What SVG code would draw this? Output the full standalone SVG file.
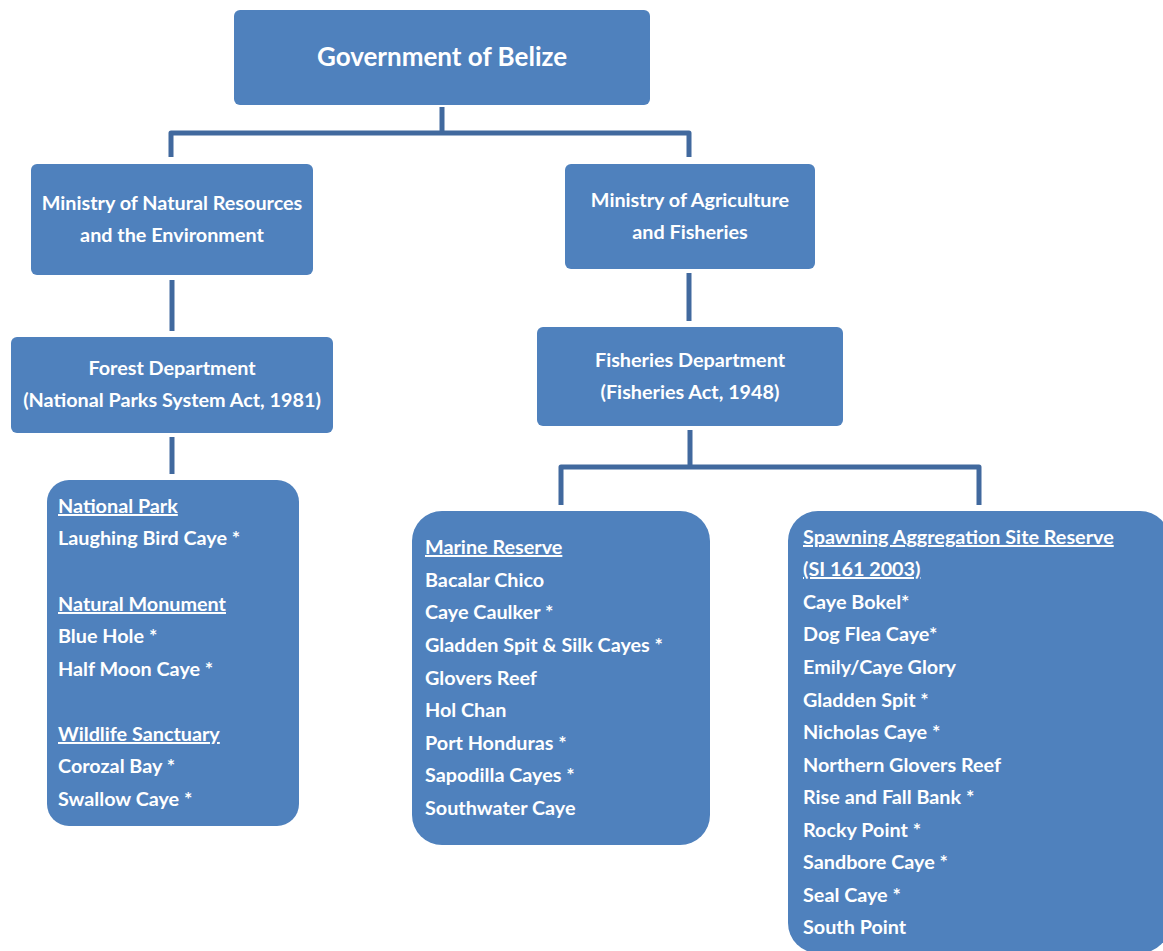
<svg xmlns="http://www.w3.org/2000/svg" width="1163" height="951" viewBox="0 0 1163 951">
<style>
.box{fill:#4F81BD;}
.t{font-family:Lato,"Liberation Sans",sans-serif;font-weight:bold;fill:#FFFFFF;font-size:19.8px;}
.c{text-anchor:middle;}
.u{text-decoration:underline;}
.conn{stroke:#41699E;stroke-width:5;fill:none;stroke-linejoin:round;}
</style>
<rect width="1163" height="951" fill="#FFFFFF"/>
<g id="connectors">
<path class="conn" d="M442,107 V133 M171,157 V133 H689 V157"/>
<path class="conn" d="M172,280 V331"/>
<path class="conn" d="M689,273 V321"/>
<path class="conn" d="M172,437 V474"/>
<path class="conn" d="M690,430 V467 M561,505 V467 H979 V505"/>
</g>
<g id="gov">
<rect class="box" x="234" y="10" width="416" height="95" rx="6"/>
<text class="t c" x="442" y="66" style="font-size:26px">Government of Belize</text>
</g>
<g id="mnr">
<rect class="box" x="31" y="164" width="282" height="111" rx="6"/>
<text class="t c" x="172" y="210">Ministry of Natural Resources</text>
<text class="t c" x="172" y="242">and the Environment</text>
</g>
<g id="maf">
<rect class="box" x="565" y="164" width="250" height="105" rx="6"/>
<text class="t c" x="690" y="207">Ministry of Agriculture</text>
<text class="t c" x="690" y="239">and Fisheries</text>
</g>
<g id="forest">
<rect class="box" x="11" y="337" width="322" height="96" rx="6"/>
<text class="t c" x="172" y="375">Forest Department</text>
<text class="t c" x="172" y="407">(National Parks System Act, 1981)</text>
</g>
<g id="fisheries">
<rect class="box" x="537" y="327" width="306" height="99" rx="6"/>
<text class="t c" x="690" y="367">Fisheries Department</text>
<text class="t c" x="690" y="399">(Fisheries Act, 1948)</text>
</g>
<g id="national">
<rect class="box" x="47" y="480" width="252" height="346" rx="22"/>
<text class="t u" x="58" y="513">National Park </text>
<text class="t" x="58" y="545">Laughing Bird Caye *</text>
<text class="t u" x="58" y="611">Natural Monument</text>
<text class="t" x="58" y="643">Blue Hole *</text>
<text class="t" x="58" y="676">Half Moon Caye *</text>
<text class="t u" x="58" y="741">Wildlife Sanctuary</text>
<text class="t" x="58" y="773">Corozal Bay *</text>
<text class="t" x="58" y="806">Swallow Caye *</text>
</g>
<g id="marine">
<rect class="box" x="412" y="511" width="298" height="334" rx="30"/>
<text class="t u" x="425" y="554">Marine Reserve</text>
<text class="t" x="425" y="587">Bacalar Chico</text>
<text class="t" x="425" y="619">Caye Caulker *</text>
<text class="t" x="425" y="652">Gladden Spit &amp; Silk Cayes *</text>
<text class="t" x="425" y="685">Glovers Reef</text>
<text class="t" x="425" y="717">Hol Chan</text>
<text class="t" x="425" y="750">Port Honduras *</text>
<text class="t" x="425" y="782">Sapodilla Cayes *</text>
<text class="t" x="425" y="815">Southwater Caye</text>
</g>
<g id="spawning">
<rect class="box" x="788" y="511" width="382" height="442" rx="30"/>
<text class="t u" x="803" y="544">Spawning Aggregation Site Reserve</text>
<text class="t u" x="803" y="576">(SI 161 2003)</text>
<text class="t" x="803" y="609">Caye Bokel*</text>
<text class="t" x="803" y="641">Dog Flea Caye*</text>
<text class="t" x="803" y="674">Emily/Caye Glory</text>
<text class="t" x="803" y="707">Gladden Spit *</text>
<text class="t" x="803" y="739">Nicholas Caye *</text>
<text class="t" x="803" y="772">Northern Glovers Reef</text>
<text class="t" x="803" y="804">Rise and Fall Bank *</text>
<text class="t" x="803" y="837">Rocky Point *</text>
<text class="t" x="803" y="869">Sandbore Caye *</text>
<text class="t" x="803" y="902">Seal Caye *</text>
<text class="t" x="803" y="934">South Point</text>
</g>
</svg>
